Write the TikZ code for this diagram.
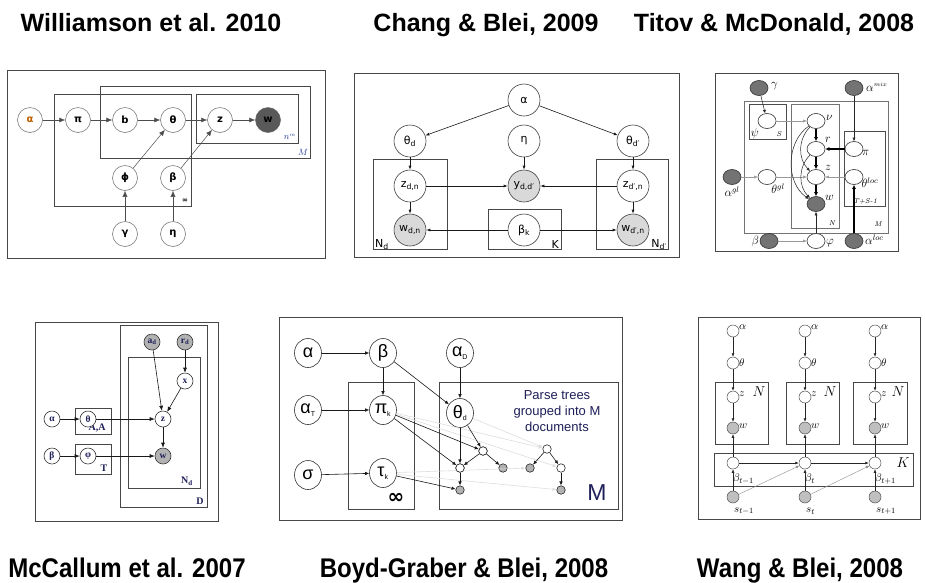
\documentclass[tikz,border=0pt]{standalone}
\usepackage{fontspec}
\usetikzlibrary{arrows.meta,shapes.geometric}
\newfontfamily\lsans{Liberation Sans}
\newfontfamily\lserif{Liberation Serif}
\newfontfamily\dvs{DejaVu Sans}
\definecolor{framec}{gray}{0.28}
\definecolor{navy}{rgb}{0.12,0.12,0.35}
\definecolor{wblue}{rgb}{0.15,0.25,0.6}
\definecolor{lightedge}{gray}{0.87}
\tikzset{
  frm/.style={draw=framec, line width=1pt},
  plate/.style={draw=framec, line width=0.7pt},
  ttl/.style={font=\lsans\bfseries\fontsize{25}{28}\selectfont, inner sep=0pt, anchor=base},
  bttl/.style={font=\lsans\bfseries\fontsize{27}{30}\selectfont, inner sep=0pt, anchor=base},
  % Williamson
  wn/.style={circle, draw=black!60, line width=0.5pt, minimum size=25pt, inner sep=0pt, fill=white, font=\dvs\bfseries\fontsize{10}{11}\selectfont},
  war/.style={-{Latex[length=6pt,width=5pt]}, line width=0.5pt, draw=black!70},
  % Chang
  cn/.style={circle, draw=black!75, line width=0.6pt, minimum size=32pt, inner sep=0pt, fill=white, font=\dvs\fontsize{11}{12}\selectfont},
  car/.style={-{Latex[length=4pt,width=3pt]}, line width=0.6pt, draw=black!90},
  cpl/.style={font=\dvs\fontsize{11}{12}\selectfont, inner sep=0pt},
  % Titov
  tn/.style={ellipse, draw=black!80, line width=0.6pt, minimum width=18pt, minimum height=15pt, inner sep=0pt, fill=white},
  tg/.style={tn, fill=black!55},
  tl/.style={font=\fontsize{12}{13}\selectfont, inner sep=0pt},
  tpl/.style={font=\itshape\fontsize{7}{8}\selectfont, inner sep=0pt},
  tthin/.style={-{Latex[length=3.5pt,width=3pt]}, line width=0.5pt, draw=black!85},
  tgray/.style={-{Latex[length=3.5pt,width=3pt]}, line width=0.5pt, draw=black!40},
  tthick/.style={-{Latex[length=4pt,width=4pt]}, line width=1.6pt, draw=black},
  % McCallum
  mn/.style={circle, draw=black!80, line width=0.6pt, minimum size=16pt, inner sep=0pt, fill=white, font=\lserif\bfseries\fontsize{9.5}{10}\selectfont, text=navy},
  mg/.style={mn, fill=black!30},
  mar/.style={-{Latex[length=5pt,width=4pt]}, line width=0.6pt, draw=black!90},
  mpl/.style={font=\lserif\bfseries\fontsize{10}{11}\selectfont, text=navy, inner sep=0pt},
  % Boyd-Graber
  bn/.style={ellipse, draw=black!80, line width=0.6pt, minimum width=27pt, minimum height=29pt, inner sep=0pt, fill=white, font=\lsans\fontsize{18}{19}\selectfont},
  trn/.style={circle, draw=black!85, line width=0.6pt, minimum size=8.5pt, inner sep=0pt, fill=white},
  trg/.style={trn, fill=black!30},
  bar/.style={-{Latex[length=4pt,width=3.5pt]}, line width=0.6pt, draw=black!90},
  blight/.style={-{Latex[length=4pt,width=3.5pt]}, line width=0.6pt, color=lightedge},
  % Wang
  wbn/.style={circle, draw=black!70, line width=0.5pt, minimum size=12pt, inner sep=0pt, fill=white},
  wbg/.style={wbn, fill=black!25},
  wl/.style={font=\fontsize{11}{12}\selectfont, inner sep=0pt, anchor=west},
  wbar/.style={-{Latex[length=3.5pt,width=3pt]}, line width=0.6pt, draw=black!85},
  wbthin/.style={-{Latex[length=3.5pt,width=3pt]}, line width=0.4pt, draw=black!45},
}
\begin{document}
\begin{tikzpicture}[x=1pt,y=-1pt]
\useasboundingbox (0,0) rectangle (925,582);
\fill[white] (0,0) rectangle (925,582);

% ---------- titles ----------
\node[ttl] (t1) at (151,31) {Williamson et al. 2010};
\node[ttl] (t2) at (486,31) {Chang \& Blei, 2009};
\node[ttl] (t3) at (774,31) {Titov \& McDonald, 2008};
\node[bttl] (t4) at (127,577) {\scalebox{0.89}[1]{McCallum et al. 2007}};
\node[bttl] (t5) at (464,577) {\scalebox{0.89}[1]{Boyd-Graber \& Blei, 2008}};
\node[bttl] (t6) at (800,577) {\scalebox{0.89}[1]{Wang \& Blei, 2008}};

% ---------- Williamson ----------
\draw[frm] (7,70) rectangle (325,258);
\draw[plate] (54,94) rectangle (191,206);
\draw[plate] (100,86) rectangle (310,158);
\draw[plate] (196,94) rectangle (298,143);
\node[font=\dvs\bfseries\fontsize{7}{8}\selectfont, inner sep=0pt] (wLinf) at (185,201) {∞};
\node[font=\itshape\fontsize{9}{10}\selectfont, text=wblue, inner sep=0pt] (wLM) at (303,152) {$M$};
\node[font=\fontsize{9}{10}\selectfont, text=wblue, inner sep=0pt] (wLn) at (290,137) {$n^{\scriptscriptstyle m}$};
\node[wn, text=orange!75!black] (wa) at (30,120) {α};
\node[wn] (wpi) at (78,120) {π};
\node[wn] (wb) at (125,120) {b};
\node[wn] (wth) at (173,120) {θ};
\node[wn] (wz) at (220,120) {z};
\node[wn, fill=black!65] (ww) at (268,120) {w};
\node[wn] (wphi) at (125,178) {ϕ};
\node[wn] (wbeta) at (173,178) {β};
\node[wn] (wgam) at (125,234) {γ};
\node[wn] (weta) at (173,234) {η};
\draw[war] (wa) -- (wpi);
\draw[war] (wpi) -- (wb);
\draw[war] (wb) -- (wth);
\draw[war] (wth) -- (wz);
\draw[war] (wz) -- (ww);
\draw[war] (wphi) -- (wth);
\draw[war] (wbeta) -- (wz);
\draw[war] (wgam) -- (wphi);
\draw[war] (weta) -- (wbeta);

% ---------- Chang & Blei ----------
\draw[frm] (354,73) rectangle (679,257);
\draw[plate] (373,159) rectangle (447,249);
\draw[plate] (488,209) rectangle (561,249);
\draw[plate] (596,159) rectangle (668,249);
\node[cpl, anchor=south west] (cLN1) at (375,250) {N\textsubscript{d}};
\node[cpl, anchor=south east] (cLK) at (559,249) {K};
\node[cpl, anchor=south east] (cLN2) at (667,250) {N\textsubscript{d′}};
\node[cn] (ca) at (524,100) {α};
\node[cn] (cthd) at (410,141) {θ\textsubscript{d}};
\node[cn] (ceta) at (524,141) {η};
\node[cn] (cthd2) at (633,141) {θ\textsubscript{d′}};
\node[cn] (cz) at (410,186) {z\textsubscript{d,n}};
\node[cn, fill=black!15] (cy) at (524,186) {y\textsubscript{d,d′}};
\node[cn] (cz2) at (633,186) {z\textsubscript{d′,n}};
\node[cn, fill=black!15] (cw) at (410,230) {w\textsubscript{d,n}};
\node[cn] (cbeta) at (524,230) {β\textsubscript{k}};
\node[cn, fill=black!15] (cw2) at (633,230) {w\textsubscript{d′,n}};
\draw[car] (ca) -- (cthd);
\draw[car] (ca) -- (cthd2);
\draw[car] (cthd) -- (cz);
\draw[car] (cthd2) -- (cz2);
\draw[car] (ceta) -- (cy);
\draw[car] (cz) -- (cy);
\draw[car] (cz2) -- (cy);
\draw[car] (cz) -- (cw);
\draw[car] (cz2) -- (cw2);
\draw[car] (cbeta) -- (cw);
\draw[car] (cbeta) -- (cw2);

% ---------- Titov & McDonald ----------
\draw[frm] (715,73) rectangle (898,251);
\draw[plate, draw=black!55, line width=0.9pt] (744,101) rectangle (888,233);
\draw[plate, draw=black!70] (749,104) rectangle (786,139);
\draw[plate, draw=black!55, line width=0.9pt] (791,104) rectangle (839,228);
\draw[plate, draw=black!70] (844,131) rectangle (885,206);
\node[tpl] (tLS) at (779,134) {S};
\node[tpl] (tLN) at (832,223) {N};
\node[tpl] (tLM) at (878,224) {M};
\node[tpl] (tLT) at (865,201) {T+S-1};
\node[tg] (tgam) at (759,88) {};
\node[tl, anchor=west] (tLgam) at (771,86) {$\gamma$};
\node[tg] (tamix) at (854,88) {};
\node[tl, anchor=west] (tLamix) at (866,87) {$\alpha^{\scriptscriptstyle mix}$};
\node[tn] (tpsi) at (767,121) {};
\node[tl] (tLpsi) at (755,133) {$\psi$};
\node[tn] (tnu) at (816,121) {};
\node[tl, anchor=west] (tLnu) at (826,118) {$\nu$};
\node[tn] (tr) at (816,149) {};
\node[tl, anchor=west] (tLr) at (825,140) {$r$};
\node[tn] (tpi) at (854,149) {};
\node[tl, anchor=west] (tLpi) at (862,153) {$\pi$};
\node[tg] (tagl) at (732,177) {};
\node[tl] (tLagl) at (732,192) {$\alpha^{gl}$};
\node[tn] (tthgl) at (767,177) {};
\node[tl] (tLthgl) at (778,189) {$\theta^{gl}$};
\node[tn] (tz) at (816,177) {};
\node[tl, anchor=west] (tLz) at (825,168) {$z$};
\node[tn] (tthloc) at (854,177) {};
\node[tl] (tLthloc) at (870,183) {$\theta^{loc}$};
\node[tg] (tw) at (816,204) {};
\node[tl, anchor=west] (tLw) at (825,198) {$w$};
\node[tg] (tbeta) at (769,241) {};
\node[tl, anchor=east] (tLbeta) at (759,241) {$\beta$};
\node[tn] (tphi) at (816,241) {};
\node[tl, anchor=west] (tLphi) at (826,243) {$\varphi$};
\node[tg] (taloc) at (854,241) {};
\node[tl, anchor=west] (tLaloc) at (865,240) {$\alpha^{loc}$};
\draw[tthin] (tgam) -- (tpsi);
\draw[tthin] (tamix) -- (tpi);
\draw[tgray] (tpsi) -- (tnu);
\draw[tthick] (tnu) -- (tr);
\draw[tthick] (tpi) -- (tr);
\draw[tthick] (tr) -- (tz);
\draw[tthick] (tz) -- (tw);
\draw[tgray] (tthloc) -- (tz);
\draw[tgray] (tthgl) -- (tz);
\draw[tgray] (tagl) -- (tthgl);
\draw[tgray] (tbeta) -- (tphi);
\draw[tthin] (tphi) -- (tw);
\draw[tthick] (taloc) -- (tthloc);
\draw[tthin] (tnu) to[bend right=45] (tz);
\draw[tthin] (tnu) to[bend right=55] (tw);
\draw[tthin] (tr) to[bend right=45] (tw);

% ---------- McCallum ----------
\draw[frm] (35,322) rectangle (218,521);
\draw[plate] (120,325) rectangle (207,507);
\draw[plate] (128,357) rectangle (200,488);
\draw[plate] (75,408) rectangle (111,434);
\draw[plate] (75,444) rectangle (111,474);
\node[mpl] (mLD) at (200,501) {D};
\node[mpl] (mLN) at (187,481) {N\textsubscript{d}};
\node[mpl] (mLA) at (97,428) {A,A};
\node[mpl] (mLT) at (104,468) {T};
\node[mg] (mad) at (152,342) {a\textsubscript{d}};
\node[mg] (mrd) at (185,342) {r\textsubscript{d}};
\node[mn] (mx) at (185,381) {x};
\node[mn] (mal) at (52,419) {α};
\node[mn] (mth) at (88,419) {θ};
\node[mn] (mz) at (163,419) {z};
\node[mn] (mbe) at (52,456) {β};
\node[mn] (mphi) at (88,456) {φ};
\node[mg] (mw) at (163,456) {w};
\draw[mar] (mal) -- (mth);
\draw[mar] (mbe) -- (mphi);
\draw[mar] (mth) -- (mz);
\draw[mar] (mphi) -- (mw);
\draw[mar] (mad) -- (mz);
\draw[mar] (mrd) -- (mx);
\draw[mar] (mx) -- (mz);
\draw[mar] (mz) -- (mw);

% ---------- Boyd-Graber & Blei ----------
\draw[frm] (279,317) rectangle (622,520);
\draw[plate, line width=0.8pt] (348,382) rectangle (414,509);
\draw[plate, line width=0.8pt] (439,382) rectangle (618,509);
\node[font=\dvs\bfseries\fontsize{20}{21}\selectfont, inner sep=0pt] (bLinf) at (396,498) {∞};
\node[font=\lsans\fontsize{23}{24}\selectfont, inner sep=0pt, text=navy] (bLM) at (597,493) {M};
\node[font=\lsans\fontsize{13}{16}\selectfont, align=center, inner sep=0pt, text=navy] (bText) at (557,411) {Parse trees\\grouped into M\\documents};
\node[bn] (ba) at (308,353) {α};
\node[bn] (bb) at (383,353) {β};
\node[bn] (baD) at (460,353) {α\textsubscript{\fontsize{7}{8}\selectfont D}};
\node[bn] (baT) at (308,410) {α\textsubscript{\fontsize{7}{8}\selectfont T}};
\node[bn] (bpi) at (383,410) {π\textsubscript{\fontsize{7}{8}\selectfont k}};
\node[bn] (bth) at (460,413) {θ\textsubscript{\fontsize{7}{8}\selectfont d}};
\node[bn] (bsig) at (308,475) {σ};
\node[bn] (btau) at (383,473) {τ\textsubscript{\fontsize{7}{8}\selectfont k}};
\node[trn] (b1) at (483,451) {};
\node[trn] (b2) at (460,468) {};
\node[trg] (b3) at (503,468) {};
\node[trg] (b4) at (460,490) {};
\node[trn] (b5) at (547,449) {};
\node[trg] (b6) at (530,468) {};
\node[trn] (b7) at (561,468) {};
\node[trg] (b8) at (561,490) {};
\draw[blight] (bpi) -- (b5);
\draw[blight] (bpi) -- (b7);
\draw[blight] (bth) -- (b5);
\draw[blight] (btau) -- (b6);
\draw[blight] (btau) -- (b8);
\draw[bar] (ba) -- (bb);
\draw[bar] (baT) -- (bpi);
\draw[bar] (bsig) -- (btau);
\draw[bar] (bb) -- (bpi);
\draw[bar] (bb) -- (bth);
\draw[bar] (baD) -- (bth);
\draw[bar] (bth) -- (b2);
\draw[bar] (bth) -- (b1);
\draw[bar] (bpi) -- (b1);
\draw[bar] (bpi) -- (b2);
\draw[bar] (btau) -- (b4);
\draw[bar] (b1) -- (b2);
\draw[bar] (b1) -- (b3);
\draw[bar] (b2) -- (b4);
\draw[bar] (b5) -- (b6);
\draw[bar] (b5) -- (b7);
\draw[bar] (b7) -- (b8);
\node[trn] (b1t) at (483,451) {};
\node[trn] (b2t) at (460,468) {};

% ---------- Wang & Blei ----------
\draw[frm] (698,317) rectangle (920,519);
\draw[plate] (715,382) rectangle (768,444);
\draw[plate] (786,382) rectangle (839,444);
\draw[plate] (853,382) rectangle (907,444);
\draw[plate] (714,453) rectangle (913,486);
\node[font=\fontsize{14}{15}\selectfont, inner sep=0pt] (gLN1) at (759,392) {$N$};
\node[font=\fontsize{14}{15}\selectfont, inner sep=0pt] (gLN2) at (830,392) {$N$};
\node[font=\fontsize{14}{15}\selectfont, inner sep=0pt] (gLN3) at (898,392) {$N$};
\node[font=\fontsize{14}{15}\selectfont, inner sep=0pt] (gLK) at (903,463) {$K$};
\foreach \c/\x/\sb in {1/733/{t-1},2/805/{t},3/875/{t+1}}{
  \node[wbn] (ga\c) at (\x,331) {};
  \node[wbn] (gth\c) at (\x,363) {};
  \node[wbn] (gz\c) at (\x,397) {};
  \node[wbg] (gw\c) at (\x,428) {};
  \node[wbn] (gb\c) at (\x,463) {};
  \node[wbg] (gs\c) at (\x,497) {};
  \node[wl] (gLa\c) at (\x+6,327) {$\alpha$};
  \node[wl] (gLth\c) at (\x+6,363) {$\theta$};
  \node[wl] (gLz\c) at (\x+6,394) {$z$};
  \node[wl] (gLw\c) at (\x+6,426) {$w$};
  \node[wl] (gLb\c) at (\x,479) {$\beta_{\sb}$};
  \node[wl] (gLs\c) at (\x+1,511) {$s_{\sb}$};
  \draw[wbar] (ga\c) -- (gth\c);
  \draw[wbar] (gth\c) -- (gz\c);
  \draw[wbar] (gz\c) -- (gw\c);
  \draw[wbar] (gb\c) -- (gw\c);
  \draw[wbar] (gs\c) -- (gb\c);
}
\draw[wbar, line width=1pt] (gb1) -- (gb2);
\draw[wbar, line width=1pt] (gb2) -- (gb3);
\draw[wbthin] (gs1) -- (gb2);
\draw[wbthin] (gs2) -- (gb3);
\end{tikzpicture}
\end{document}
